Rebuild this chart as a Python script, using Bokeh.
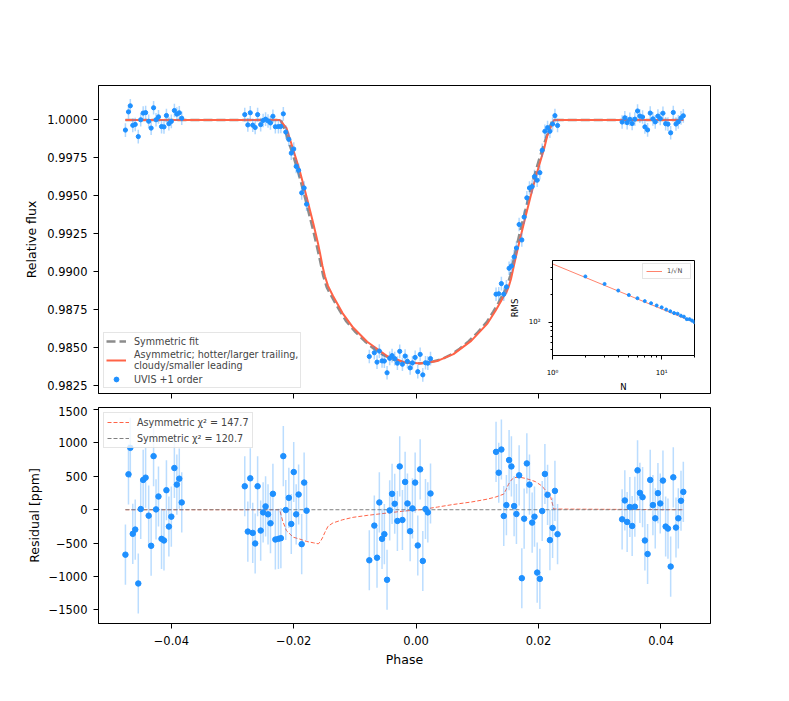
import numpy as np
from bokeh.plotting import figure
from bokeh.layouts import column
from bokeh.models import (ColumnDataSource, FixedTicker, CustomJSTickFormatter,
                          Legend, LegendItem, Range1d)
from bokeh.embed import file_html
from bokeh.resources import INLINE

FONT = "DejaVu Sans"
BLUE = "#1E90FF"
RED = "#FF6347"
GRAY = "#808080"

# ---------------- data ----------------
phase = [
    -0.0475, -0.0470, -0.0467, -0.0463, -0.0459, -0.0454, -0.0450, -0.0446, -0.0442, -0.0437, -0.0433, -0.0429,
    -0.0425, -0.0421, -0.0416, -0.0412, -0.0408, -0.0404, -0.0400, -0.0395, -0.0391, -0.0387, -0.0383,
    -0.0280, -0.0275, -0.0271, -0.0267, -0.0263, -0.0259, -0.0254, -0.0250, -0.0246, -0.0242, -0.0238, -0.0234,
    -0.0230, -0.0225, -0.0221, -0.0217, -0.0213, -0.0208, -0.0204, -0.0200, -0.0196, -0.0192, -0.0187, -0.0183, -0.0179,
    -0.00765, -0.00683, -0.00639, -0.00601, -0.00557, -0.00519, -0.00475, -0.00432, -0.00393, -0.00350, -0.00306, -0.00268,
    -0.00224, -0.00180, -0.00142, -0.00098, -0.00060, -0.00016, 0.00027, 0.00066, 0.00109, 0.00153, 0.00191, 0.00235,
    0.01306, 0.01350, 0.01393, 0.01432, 0.01475, 0.01519, 0.01557, 0.01601, 0.01639, 0.01683, 0.01727, 0.01765,
    0.01809, 0.01852, 0.01896, 0.01934, 0.01978, 0.02022, 0.02060, 0.02104, 0.02148, 0.02186, 0.02230, 0.02268, 0.02311,
    0.03366, 0.03410, 0.03448, 0.03492, 0.03530, 0.03574, 0.03618, 0.03656, 0.03700, 0.03738, 0.03782, 0.03825,
    0.03869, 0.03907, 0.03951, 0.03989, 0.04033, 0.04077, 0.04115, 0.04159, 0.04202, 0.04246, 0.04284, 0.04328, 0.04366,
]
flux = [
    0.99933, 1.00053, 1.00093, 0.99964, 0.99970, 0.99890, 1.00001, 1.00045, 1.00048, 0.99991, 0.99946, 1.00080,
    1.00001, 1.00020, 0.99956, 0.99954, 1.00029, 0.99975, 0.99990, 1.00062, 1.00038, 1.00047, 1.00011,
    1.00035, 0.99967, 1.00047, 0.99965, 0.99950, 1.00035, 0.99969, 0.99996, 1.00005, 0.99993, 0.99980, 1.00024,
    0.99955, 0.99956, 0.99957, 1.00040, 0.99920, 0.99872, 0.99781, 0.99808, 0.99693, 0.99668, 0.99519, 0.99551, 0.99444,
    0.98439, 0.98464, 0.98402, 0.98475, 0.98410, 0.98409, 0.98332, 0.98427, 0.98445, 0.98425, 0.98395, 0.98473,
    0.98388, 0.98442, 0.98407, 0.98364, 0.98397, 0.98433, 0.98339, 0.98453, 0.98318, 0.98398, 0.98395, 0.98425,
    0.98850, 0.98853, 0.98920, 0.98850, 0.98898, 0.99021, 0.99036, 0.99096, 0.99155, 0.99310, 0.99208, 0.99359,
    0.99486, 0.99551, 0.99560, 0.99626, 0.99602, 0.99652, 0.99800, 0.99925, 0.99949, 0.99925, 0.99973, 1.00028, 0.99963,
    0.99986, 1.00014, 0.99982, 1.00004, 0.99976, 1.00005, 1.00059, 1.00025, 1.00019, 0.99954, 0.99934, 1.00045,
    1.00007, 0.99987, 1.00025, 1.00009, 1.00044, 0.99975, 0.99972, 0.99915, 1.00049, 0.99973, 0.99987, 1.00013, 1.00027,
]
resid_ppm = [
    -673, 530, 926, -361, -297, -1104, 10, 446, 480, -89, -540, 802,
    5, 198, -436, -460, 292, -252, -104, 624, 376, 465, 109,
    351, -327, 470, -347, -505, 351, -312, -40, 50, -69, -203, 238,
    -446, -436, -426, 802, -5, 178, -213, 564, -69, 228, -515, 406, -15,
    -757, -238, -718, 109, -436, -366, -1049, -10, 238, 89, -168, 648,
    -153, 416, 94, -322, 20, 406, -535, 604, -767, 10, -40, 243,
    866, 554, 901, -94, 69, 743, 648, 54, -64, 515, -1025, -134,
    693, 376, -193, -104, -941, -1035, -20, 535, 223, -455, -272, 282, -366,
    -144, 139, -183, 40, -243, 45, 589, 252, 188, -460, -663, 446,
    69, -129, 248, 94, 436, -252, -282, -851, 485, -267, -129, 134, 267,
]
err_ppm = 450.0

sym_phase = [-0.0475, -0.0221, -0.0214, -0.0207, -0.0199, -0.0191, -0.0183, -0.0175, -0.0167, -0.0159, -0.0152,
             -0.0146, -0.0140, -0.0132, -0.0124, -0.0114, -0.0099, -0.0084, -0.0069, -0.0054, -0.0039, -0.0019,
             0.0001, 0.0021, 0.0041, 0.0056, 0.0071, 0.0086, 0.0101, 0.0116, 0.0126, 0.0134, 0.0142, 0.0148,
             0.0154, 0.0161, 0.0169, 0.0177, 0.0185, 0.0193, 0.0201, 0.0209, 0.0216, 0.0223, 0.0437]
sym_flux = [1.0, 1.0000, 0.9993, 0.9984, 0.9974, 0.9963, 0.9951, 0.9938, 0.9925, 0.9911, 0.98975,
            0.98895, 0.98850, 0.98790, 0.98735, 0.98670, 0.98600, 0.98540, 0.98490, 0.98450, 0.98420, 0.98400,
            0.98392, 0.98400, 0.98420, 0.98450, 0.98490, 0.98540, 0.98600, 0.98670, 0.98735, 0.98790, 0.98850, 0.98895,
            0.98975, 0.9911, 0.9925, 0.9938, 0.9951, 0.9963, 0.9974, 0.9984, 0.9993, 1.0000, 1.0]

asym_phase = [-0.0475, -0.0223, -0.0212, -0.0201, -0.0190, -0.0179, -0.0168, -0.0160, -0.0157, -0.0153,
              -0.0149, -0.0144, -0.0136, -0.0120, -0.0103, -0.0080, -0.0048, -0.0020, 0.0007, 0.0035,
              0.0061, 0.0090, 0.0116, 0.0130, 0.0143, 0.0147, 0.0151, 0.0155, 0.0160, 0.0165,
              0.0170, 0.0178, 0.0187, 0.0195, 0.0203, 0.0209, 0.0214, 0.0220, 0.0225, 0.0437]
asym_flux = [1.0, 1.0, 0.99948, 0.99806, 0.99662, 0.99493, 0.99316, 0.99179, 0.99120, 0.99036,
             0.98969, 0.98905, 0.98840, 0.98724, 0.98630, 0.98536, 0.98443, 0.98403, 0.98393, 0.98410,
             0.98455, 0.98542, 0.98654, 0.98743, 0.98835, 0.98858, 0.98897, 0.98950, 0.99043, 0.99132,
             0.99218, 0.99349, 0.99495, 0.99616, 0.99728, 0.99808, 0.99891, 0.99952, 0.99999, 1.0]

asym_res_phase = [-0.0475, -0.0223, -0.0218, -0.0212, -0.0201, -0.0190, -0.0179, -0.0168, -0.0160, -0.0157,
                  -0.0153, -0.0149, -0.0144, -0.0136, -0.0120, -0.0103, -0.0080, -0.0048, -0.0020, 0.0007,
                  0.0035, 0.0061, 0.0090, 0.0116, 0.0130, 0.0143, 0.0147, 0.0151, 0.0155, 0.0160,
                  0.0165, 0.0170, 0.0178, 0.0187, 0.0195, 0.0203, 0.0209, 0.0214, 0.0220, 0.0225, 0.0437]
asym_res_ppm = [0, 0, -170, -312, -411, -440, -475, -495, -510, -485,
                -420, -337, -248, -198, -150, -114, -85, -50, -20, 0,
                40, 79, 115, 158, 190, 233, 300, 381, 440, 480,
                485, 485, 470, 446, 420, 371, 320, 257, 183, 10, 0]
sym_res_phase = [-0.0475, 0.0437]
sym_res_ppm = [0, 0]

rms_n = [2, 3, 4, 5, 6, 7, 8, 9, 10, 11, 12, 13, 14, 15, 16, 17, 18, 19, 20]
rms_val = [321, 265, 224, 200, 184, 171, 162, 153, 146, 138, 132, 126, 124, 118, 115, 108, 108, 104, 100]
sqrt_n = [1, 20]
sqrt_rms = [442, 99]

phase_ticks = [-0.04, -0.02, 0.0, 0.02, 0.04]
flux_ticks = [0.9825, 0.9850, 0.9875, 0.9900, 0.9925, 0.9950, 0.9975, 1.0000]
resid_ticks = [-1500, -1000, -500, 0, 500, 1000, 1500]
inset_n_ticks = [1, 10]
inset_n_minor = [2, 3, 4, 5, 6, 7, 8, 9, 20]
inset_rms_ticks = [100]
inset_rms_minor = [50, 60, 70, 80, 90, 200, 300, 400]

# ---------------- sources ----------------
ph = np.array(phase)
fl = np.array(flux)
rs = np.array(resid_ppm, dtype=float)
src_top = ColumnDataSource(dict(x=ph, y=fl, lo=fl - err_ppm * 1e-6, hi=fl + err_ppm * 1e-6))
src_bot = ColumnDataSource(dict(x=ph, y=rs, lo=rs - err_ppm, hi=rs + err_ppm))


def style_axis(ax, size="11.5px"):
    ax.axis_line_color = "black"
    ax.major_tick_line_color = "black"
    ax.major_tick_out = 5
    ax.major_tick_in = 0
    ax.minor_tick_out = 0
    ax.minor_tick_in = 0
    ax.major_label_text_font = FONT
    ax.major_label_text_font_size = size
    ax.major_label_text_color = "black"
    ax.major_label_standoff = 6
    ax.axis_label_text_font = FONT
    ax.axis_label_text_font_style = "normal"
    ax.axis_label_text_font_size = "12.5px"
    ax.axis_label_text_color = "black"


x_fmt = CustomJSTickFormatter(code="var s = Math.abs(tick) < 1e-12 ? '0.00' : tick.toFixed(2); return s.replace('-', '\u2212');")

# ---------------- top panel ----------------
p1 = figure(width=752, height=406, x_range=Range1d(-0.0519, 0.0481), y_range=Range1d(0.98195, 1.00227),
            output_backend="svg", toolbar_location=None,
            min_border_left=98, min_border_right=42, min_border_top=85, min_border_bottom=13)
p1.grid.visible = False
p1.outline_line_color = "black"
p1.outline_line_alpha = 1
style_axis(p1.xaxis[0])
style_axis(p1.yaxis[0])
p1.xaxis.ticker = FixedTicker(ticks=phase_ticks)
p1.xaxis.major_label_text_font_size = "0px"
p1.xaxis.major_label_text_alpha = 0
p1.xaxis.major_label_standoff = 0
p1.yaxis.ticker = FixedTicker(ticks=flux_ticks)
p1.yaxis.formatter = CustomJSTickFormatter(code="return tick.toFixed(4);")
p1.yaxis.axis_label = "Relative flux"
p1.yaxis.axis_label_standoff = 5

r_sym = p1.line(sym_phase, sym_flux, line_color=GRAY, line_width=2.5, line_dash="9 4", line_alpha=0.9)
r_asym = p1.line(asym_phase, asym_flux, line_color=RED, line_width=2)
p1.segment(x0="x", y0="lo", x1="x", y1="hi", source=src_top, line_color=BLUE, line_alpha=0.35, line_width=1.5)
r_pts = p1.scatter(x="x", y="y", source=src_top, size=4.2, marker="circle", fill_color=BLUE, line_color=BLUE)
# legend-only glyph: vertical error bar through the marker
r_errkey = p1.scatter(x=[], y=[], marker="dash", angle=np.pi / 2, size=11,
                      line_color=BLUE, line_alpha=0.4, line_width=1.5)

leg1 = Legend(items=[
    LegendItem(label="Symmetric fit", renderers=[r_sym]),
    LegendItem(label="Asymmetric; hotter/larger trailing,\ncloudy/smaller leading", renderers=[r_asym]),
    LegendItem(label="UVIS +1 order", renderers=[r_errkey, r_pts]),
], location="bottom_left")
leg1.margin = 5
leg1.padding = 2
leg1.spacing = 2
leg1.glyph_width = 20
leg1.glyph_height = 12
leg1.label_height = 12
leg1.label_standoff = 8
leg1.label_text_font = FONT
leg1.label_text_font_size = "9.6px"
leg1.border_line_color = "#cccccc"
leg1.background_fill_alpha = 0.8
p1.add_layout(leg1)

# ---------------- bottom panel ----------------
p2 = figure(width=752, height=272, x_range=p1.x_range, y_range=Range1d(-1703, 1530),
            output_backend="svg", toolbar_location=None,
            min_border_left=98, min_border_right=42, min_border_top=1, min_border_bottom=55)
p2.grid.visible = False
p2.outline_line_color = "black"
p2.outline_line_alpha = 1
style_axis(p2.xaxis[0])
style_axis(p2.yaxis[0])
p2.xaxis.ticker = FixedTicker(ticks=phase_ticks)
p2.xaxis.formatter = x_fmt
p2.xaxis.major_label_standoff = 7
p2.xaxis.axis_label = "Phase"
p2.xaxis.axis_label_standoff = 4
p2.yaxis.ticker = FixedTicker(ticks=resid_ticks)
p2.yaxis.formatter = CustomJSTickFormatter(code="return tick.toFixed(0).replace('-', '\u2212');")
p2.yaxis.axis_label = "Residual [ppm]"
p2.yaxis.axis_label_standoff = 4

r_ares = p2.line(asym_res_phase, asym_res_ppm, line_color=RED, line_width=1, line_dash="4 2")
r_sres = p2.line(sym_res_phase, sym_res_ppm, line_color=GRAY, line_width=1, line_dash="4 2")
p2.segment(x0="x", y0="lo", x1="x", y1="hi", source=src_bot, line_color=BLUE, line_alpha=0.3, line_width=1.5)
p2.scatter(x="x", y="y", source=src_bot, size=5.5, marker="circle", fill_color=BLUE, line_color=BLUE)

leg2 = Legend(items=[
    LegendItem(label="Asymmetric \u03c7\u00b2 = 147.7", renderers=[r_ares]),
    LegendItem(label="Symmetric \u03c7\u00b2 = 120.7", renderers=[r_sres]),
], location="top_left")
leg2.margin = 5
leg2.padding = 3
leg2.spacing = 4
leg2.glyph_width = 22
leg2.glyph_height = 12
leg2.label_height = 12
leg2.label_standoff = 8
leg2.label_text_font = FONT
leg2.label_text_font_size = "9.6px"
leg2.border_line_color = "#cccccc"
leg2.background_fill_alpha = 0.8
p2.add_layout(leg2)

# ---------------- inset ----------------
pi = figure(width=197, height=137, x_axis_type="log", y_axis_type="log",
            x_range=Range1d(1, 20), y_range=Range1d(42.7, 482),
            output_backend="svg", toolbar_location=None,
            min_border_left=52, min_border_right=3, min_border_top=3, min_border_bottom=37,
            border_fill_alpha=0, background_fill_color="white",
            styles={"position": "absolute", "left": "500px", "top": "257px"})
pi.grid.visible = False
pi.outline_line_color = "black"
pi.outline_line_alpha = 1
log_fmt = CustomJSTickFormatter(code="var s = {'0':'\u2070','1':'\u00b9','2':'\u00b2','3':'\u00b3'}; var e = Math.round(Math.log10(tick)); return '10' + s[String(e)];")
for ax in (pi.xaxis[0], pi.yaxis[0]):
    style_axis(ax, size="7px")
    ax.major_tick_out = 4
    ax.minor_tick_out = 2
    ax.minor_tick_line_color = "black"
    ax.axis_label_text_font_size = "8.5px"
    ax.formatter = log_fmt
pi.xaxis.ticker = FixedTicker(ticks=inset_n_ticks, minor_ticks=inset_n_minor)
pi.yaxis.ticker = FixedTicker(ticks=inset_rms_ticks, minor_ticks=inset_rms_minor)
pi.xaxis.major_label_standoff = 9
pi.yaxis.major_label_standoff = 8
pi.xaxis.axis_label = "N"
pi.xaxis.axis_label_standoff = 2
pi.yaxis.axis_label = "RMS"
pi.yaxis.axis_label_standoff = 6

r_sq = pi.line(sqrt_n, sqrt_rms, line_color=RED, line_width=0.8)
pi.scatter(rms_n, rms_val, size=3, marker="circle", fill_color=BLUE, line_color=BLUE)
leg3 = Legend(items=[LegendItem(label="1/\u221aN", renderers=[r_sq])], location="top_right")
leg3.margin = 3
leg3.padding = 3
leg3.spacing = 0
leg3.glyph_width = 16
leg3.glyph_height = 8
leg3.label_height = 8
leg3.label_standoff = 5
leg3.label_text_font = FONT
leg3.label_text_font_size = "6.5px"
leg3.border_line_color = "#cccccc"
pi.add_layout(leg3)

layout = column(p1, p2)
open("out.html", "w").write(file_html([layout, pi], INLINE, title="Transit light curve"))
